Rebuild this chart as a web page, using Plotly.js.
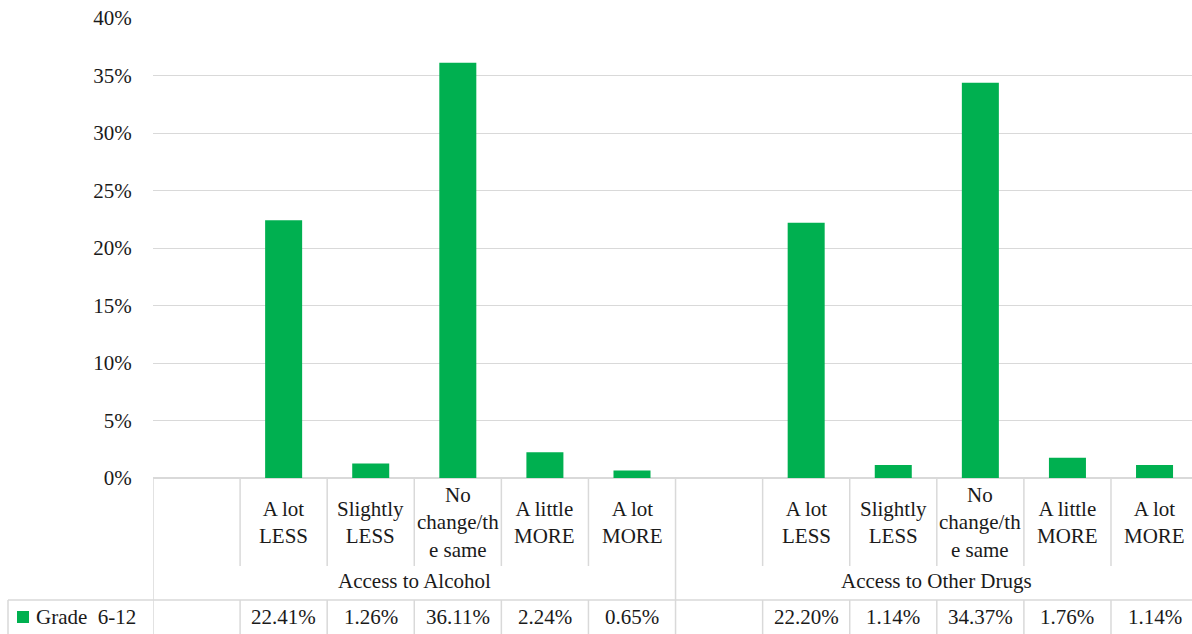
<!DOCTYPE html>
<html>
<head>
<meta charset="utf-8">
<script src="https://cdn.plot.ly/plotly-3.0.1.min.js"></script>
<style>
#chart text { font-family: 'Liberation Serif', serif !important; }
</style>
</head>
<body style="margin:0">
<div id="chart"></div>
<script>
// ---- data ----
const groups = ["Access to Alcohol", "Access to Other Drugs"];
const subCategories = ["A lot<br>LESS", "Slightly<br>LESS", "No<br>change/th<br>e same", "A little<br>MORE", "A lot<br>MORE"];
const alcoholValues = [22.41, 1.26, 36.11, 2.24, 0.65];
const drugValues = [22.20, 1.14, 34.37, 1.76, 1.14];
const seriesName = "Grade&nbsp; 6-12";
const yTicks = [0, 5, 10, 15, 20, 25, 30, 35, 40];

// ---- layout helpers ----
const W = 1192, H = 634;
const plotLeft = 153, plotTop = 18, plotBottom = 478;
const plotH = plotBottom - plotTop;
const slot = 87.09;
const py = p => (plotBottom - p) / plotH;
const pxPaper = p => (p - plotLeft) / (W - plotLeft);
const xEnd = -0.5 + (W - plotLeft) / slot;

const xs = [], ys = [], labels = [], valueText = [];
const allValues = [alcoholValues, drugValues];
groups.forEach((g, gi) => {
  subCategories.forEach((c, ci) => {
    const x = gi * (subCategories.length + 1) + 1 + ci;
    xs.push(x); ys.push(allValues[gi][ci]); labels.push(c);
    valueText.push(allValues[gi][ci].toFixed(2) + "%");
  });
});

const fontFam = "Liberation Serif";
const txtColor = "#1a1a1a";
const lineColor = "#d9d9d9";
const fs = 21;
const mkFont = () => ({family: fontFam, size: fs, color: txtColor});

const annotations = [];
xs.forEach((x, i) => {
  annotations.push({x: x, xref: "x", y: py(522), yref: "paper", text: labels[i], showarrow: false,
    xanchor: "center", yanchor: "middle", align: "center", font: mkFont()});
  annotations.push({x: x, xref: "x", y: py(617), yref: "paper", text: valueText[i], showarrow: false,
    xanchor: "center", yanchor: "middle", font: mkFont()});
});
groups.forEach((g, gi) => {
  annotations.push({x: gi * (subCategories.length + 1) + 2.5, xref: "x", y: py(581), yref: "paper", text: g,
    showarrow: false, xanchor: "center", yanchor: "middle", font: mkFont()});
});
annotations.push({x: pxPaper(34), xref: "paper", y: py(617), yref: "paper", text: seriesName, showarrow: false,
  xanchor: "left", yanchor: "middle", font: mkFont()});

const shapes = [];
const nSlots = groups.length * (subCategories.length + 1);
for (let k = 0; k < nSlots; k++) {
  const xb = k - 0.5;
  const isGroupStart = k % (subCategories.length + 1) === 0;
  if (isGroupStart) {
    shapes.push({type: "line", xref: "x", yref: "paper", x0: xb, x1: xb, y0: py(478), y1: py(634),
      line: {color: lineColor, width: 1.5}});
  } else {
    shapes.push({type: "line", xref: "x", yref: "paper", x0: xb, x1: xb, y0: py(478), y1: py(566),
      line: {color: lineColor, width: 1.5}});
    shapes.push({type: "line", xref: "x", yref: "paper", x0: xb, x1: xb, y0: py(600), y1: py(634),
      line: {color: lineColor, width: 1.5}});
  }
}
shapes.push({type: "line", xref: "paper", yref: "paper", x0: pxPaper(8), x1: 1, y0: py(600), y1: py(600),
  line: {color: lineColor, width: 1.5}});
shapes.push({type: "line", xref: "paper", yref: "paper", x0: pxPaper(8), x1: pxPaper(8), y0: py(600), y1: py(634),
  line: {color: lineColor, width: 1.5}});
shapes.push({type: "rect", xref: "paper", yref: "paper", x0: pxPaper(17), x1: pxPaper(29), y0: py(623), y1: py(611),
  line: {width: 0}, fillcolor: "#00b050"});

const trace = {type: "bar", x: xs, y: ys, name: "Grade 6-12", marker: {color: "#00b050"}, width: 0.425,
  hoverinfo: "skip"};

const layout = {
  width: W, height: H,
  margin: {l: plotLeft, r: 0, t: plotTop, b: H - plotBottom},
  paper_bgcolor: "#fff", plot_bgcolor: "#fff",
  showlegend: false,
  font: mkFont(),
  xaxis: {range: [-0.5, xEnd], showticklabels: false, showgrid: false, zeroline: false, ticks: "", showline: false, fixedrange: true},
  yaxis: {range: [0, 40], tickvals: yTicks, ticktext: yTicks.map(v => v + "%"),
    showgrid: true, gridcolor: lineColor, gridwidth: 1.3, zeroline: true, zerolinecolor: lineColor, zerolinewidth: 1.5,
    ticks: "outside", ticklen: 16, tickcolor: "rgba(0,0,0,0)", showline: false,
    tickfont: mkFont(), fixedrange: true},
  annotations: annotations,
  shapes: shapes
};

Plotly.newPlot("chart", [trace], layout, {displayModeBar: false});
</script>
</body>
</html>
